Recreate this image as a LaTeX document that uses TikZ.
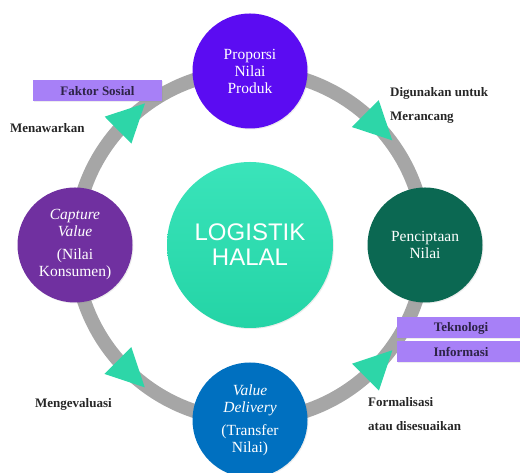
\documentclass[tikz,border=0pt]{standalone}
\usepackage{fontspec}
\setmainfont{Liberation Serif}
\newfontfamily\haltSans{Liberation Sans}
\usetikzlibrary{shapes.geometric, positioning, shadows, backgrounds}
\definecolor{cProdFill}{RGB}{91, 12, 242}
\definecolor{cCreateFill}{RGB}{11, 104, 82}
\definecolor{cCaptureFill}{RGB}{112, 48, 160}
\definecolor{cDeliverFill}{RGB}{0, 112, 192}
\definecolor{cCoreTop}{RGB}{58, 228, 186}
\definecolor{cCoreBottom}{RGB}{36, 212, 166}
\definecolor{cArrowFill}{RGB}{45, 214, 168}
\definecolor{cRing}{RGB}{166, 166, 166}
\definecolor{cTagFill}{RGB}{167, 128, 247}
\definecolor{cTagText}{RGB}{45, 35, 70}
\tikzset{
    x=1pt, y=1pt,
    % --- lingkaran dasar ---
    baseCircle/.style={
        circle, inner sep=0pt, align=center, text=white,
        drop shadow={opacity=0.15, shadow xshift=1pt, shadow yshift=-1pt}
    },
    % --- tahap & inti ---
    styleStage/.style={baseCircle, minimum size=115pt, font=\fontsize{15.5}{17}\selectfont},
    styleCore/.style={baseCircle, minimum size=166pt, top color=cCoreTop, bottom color=cCoreBottom,
        font=\haltSans\fontsize{24}{25}\selectfont},
    % --- label ---
    styleTag/.style={
        rectangle, fill=cTagFill, text=cTagText, inner sep=0pt,
        minimum width=129pt, minimum height=21pt,
        font=\bfseries\fontsize{13}{15}\selectfont,
        drop shadow={opacity=0.15, shadow xshift=1pt, shadow yshift=-1pt}
    },
    styleNote/.style={font=\bfseries\fontsize{13}{24}\selectfont, align=left, inner sep=0pt, text=black!85},
    % --- cincin & panah ---
    conn/.style={draw=cRing, line width=14pt},
    arrowTri/.style={
        isosceles triangle, isosceles triangle stretches, sloped,
        minimum width=38pt, minimum height=38pt, inner sep=0pt, fill=cArrowFill
    }
}
\begin{document}
\begin{tikzpicture}[on grid]

    \clip[use as bounding box] (0,0) rectangle (520,473);

    % =========================================================
    % 1. lingkaran
    % =========================================================

    % inti
    \node [styleCore] (core) at (250,228) {LOGISTIK\\HALAL};

    % tahap
    \node [styleStage, fill=cProdFill, above=174pt of core] (prop) {Proporsi\\Nilai\\Produk};
    \node [styleStage, fill=cCreateFill, right=175pt of core] (create) {Penciptaan\\Nilai};
    \node [styleStage, fill=cDeliverFill, below=175pt of core] (deliver) {
        \textit{Value}\\\textit{Delivery}\\[6pt](Transfer\\Nilai)
    };
    \node [styleStage, fill=cCaptureFill, left=175pt of core] (capture) {
        \textit{Capture}\\\textit{Value}\\[6pt](Nilai\\Konsumen)
    };

    % =========================================================
    % 2. label
    % =========================================================

    \node [styleTag] (social) at (97.5,382) {Faktor Sosial};
    \node [styleNote, anchor=west] (offer) at (10,345) {Menawarkan};
    \node [styleNote, anchor=west] (design) at (390,368) {Digunakan untuk\\Merancang};
    \node [styleTag, minimum width=128pt] (tech) at (461,145) {Teknologi};
    \node [styleTag, minimum width=128pt, below=24pt of tech] (info) {Informasi};
    \node [styleNote, anchor=west] (formal) at (368,58.5) {Formalisasi\\atau disesuaikan};
    \node [styleNote, anchor=west] (evaluate) at (35,69) {Mengevaluasi};

    % =========================================================
    % 3. cincin
    % =========================================================

    \begin{scope}[on background layer]
        \draw [conn] (prop.center) to[out=0, in=90] node[arrowTri] {} (create.center);
        \draw [conn] (create.center) to[out=-90, in=0] node[arrowTri] {} (deliver.center);
        \draw [conn] (deliver.center) to[out=180, in=-90] node[arrowTri] {} (capture.center);
        \draw [conn] (capture.center) to[out=90, in=180] node[arrowTri] {} (prop.center);
    \end{scope}

\end{tikzpicture}
\end{document}
